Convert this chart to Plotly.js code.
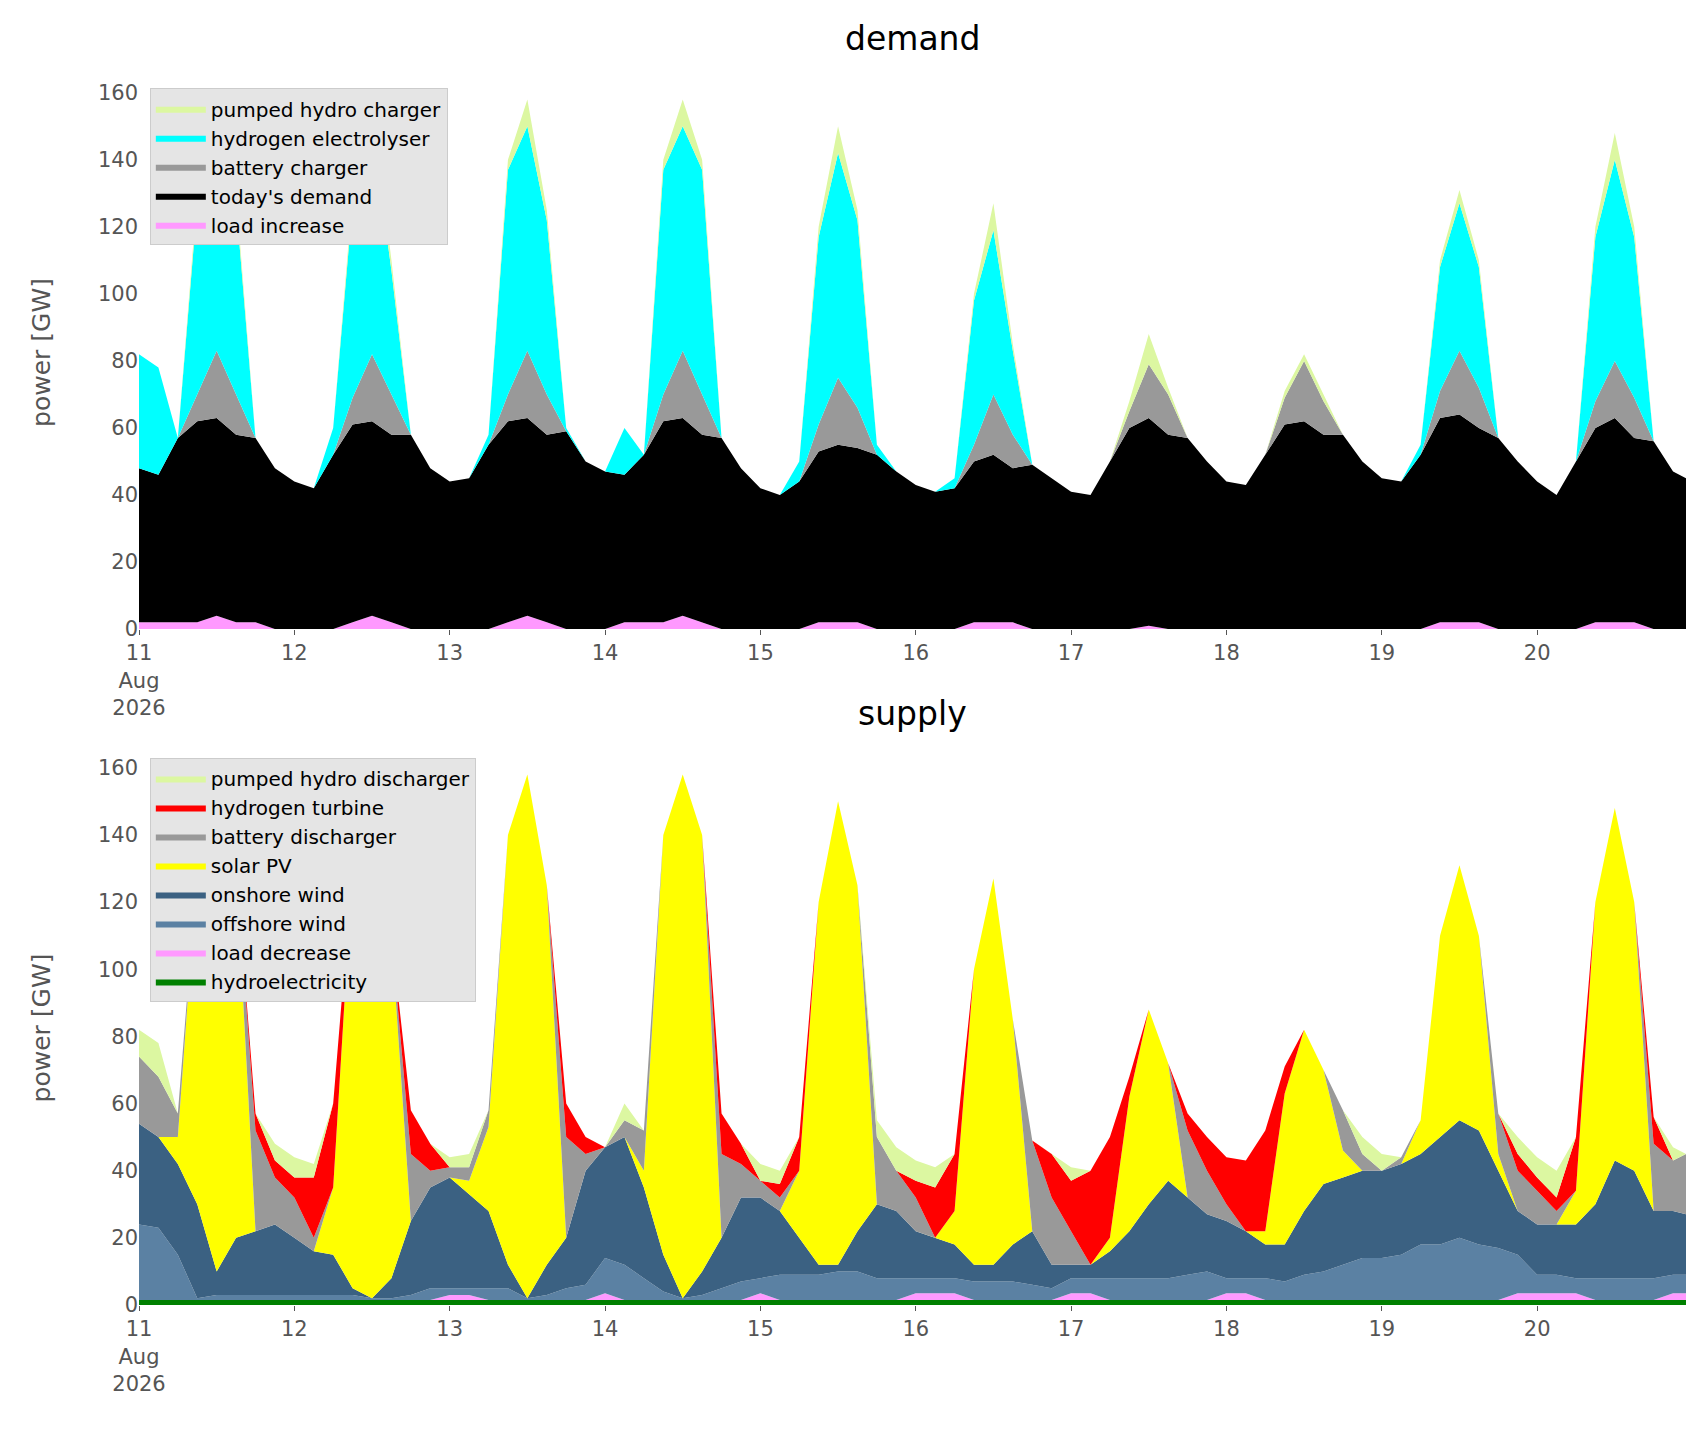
<!DOCTYPE html>
<html><head><meta charset="utf-8">
<script src="https://cdn.plot.ly/plotly-3.0.1.min.js"></script>
<style>body{margin:0;background:#fff}</style>
</head><body><div id="chart" style="width:1706px;height:1431px"></div>
<script>
// 3-hourly timestamps, Aug 11 00:00 .. Aug 20 21:00, plus Aug 20 23:00
const times = [];
for (let d = 11; d <= 20; d++) for (let h = 0; h < 24; h += 3) times.push(`2026-08-${d} ${String(h).padStart(2,'0')}:00`);
times.push('2026-08-20 23:00');

const tickVals = ['2026-08-11','2026-08-12','2026-08-13','2026-08-14','2026-08-15','2026-08-16','2026-08-17','2026-08-18','2026-08-19','2026-08-20','2026-08-21'];
const tickText = ['11<br>Aug<br>2026','12','13','14','15','16','17','18','19','20',''];

// demand (GW)
const loadIncrease = [2,2,2,2,4,2,2,0, 0,0,0,2,4,2,0,0, 0,0,0,2,4,2,0,0, 0,2,2,2,4,2,0,0, 0,0,0,2,2,2,0,0, 0,0,0,2,2,2,0,0, 0,0,0,0,1,0,0,0, 0,0,0,0,0,0,0,0, 0,0,0,2,2,2,0,0, 0,0,0,2,2,2,0,0, 0];
const todaysDemand = [46,44,55,60,59,56,55,48, 44,42,52,59,58,56,58,48, 44,45,55,60,59,56,59,50, 47,44,50,60,59,56,57,48, 42,40,44,51,53,52,52,47, 43,41,42,48,50,46,49,45, 41,40,50,60,62,58,57,50, 44,43,52,61,62,58,58,50, 45,44,52,61,62,58,57,50, 44,40,50,58,61,55,56,47, 45];
const batteryCharger = [0,0,0,8,20,12,0,0, 0,0,0,8,20,12,0,0, 0,0,0,8,20,12,0,0, 0,0,0,8,20,12,0,0, 0,0,0,8,20,12,0,0, 0,0,0,5,18,10,0,0, 0,0,0,5,16,12,0,0, 0,0,0,8,18,10,0,0, 0,0,0,8,19,12,0,0, 0,0,0,8,17,12,0,0, 0];
const electrolyser = [34,32,0,57,67,57,0,0, 0,0,8,58,68,37,0,0, 0,0,3,67,67,52,1,0, 0,14,0,67,67,67,0,0, 0,0,6,56,67,56,3,0, 0,0,3,43,49,25,0,0, 0,0,0,0,0,0,0,0, 0,0,0,0,0,0,0,0, 0,0,3,37,44,36,0,0, 0,0,0,49,60,48,0,0, 0];
const pumpedCharger = [0,0,0,3,8,3,0,0, 0,0,0,3,8,3,0,0, 0,0,0,3,8,3,0,0, 0,0,0,3,8,3,0,0, 0,0,0,3,8,3,0,0, 0,0,0,2,8,2,0,0, 0,0,0,3,9,2,0,0, 0,0,0,2,2,2,0,0, 0,0,0,2,4,2,0,0, 0,0,0,3,8,3,0,0, 0];

// supply (GW)
const hydro = [1.5,1.5,1.5,1.5,1.5,1.5,1.5,1.5, 1.5,1.5,1.5,1.5,1.5,1.5,1.5,1.5, 1.5,1.5,1.5,1.5,1.5,1.5,1.5,1.5, 1.5,1.5,1.5,1.5,1.5,1.5,1.5,1.5, 1.5,1.5,1.5,1.5,1.5,1.5,1.5,1.5, 1.5,1.5,1.5,1.5,1.5,1.5,1.5,1.5, 1.5,1.5,1.5,1.5,1.5,1.5,1.5,1.5, 1.5,1.5,1.5,1.5,1.5,1.5,1.5,1.5, 1.5,1.5,1.5,1.5,1.5,1.5,1.5,1.5, 1.5,1.5,1.5,1.5,1.5,1.5,1.5,1.5, 1.5];
const loadDecrease = [0,0,0,0,0,0,0,0, 0,0,0,0,0,0,0,0, 1.5,1.5,0,0,0,0,0,0, 2,0,0,0,0,0,0,0, 2,0,0,0,0,0,0,0, 2,2,2,0,0,0,0,0, 2,2,0,0,0,0,0,0, 2,2,0,0,0,0,0,0, 0,0,0,0,0,0,0,2, 2,2,2,0,0,0,0,2, 2];
const offshore = [22.5,21.5,13.5,0.5,1.5,1.5,1.5,1.5, 1.5,1.5,1.5,1.5,0.5,0.5,1.5,3.5, 2,2,3.5,3.5,0.5,1.5,3.5,4.5, 10.5,10.5,6.5,2.5,0.5,1.5,3.5,5.5, 4.5,7.5,7.5,7.5,8.5,8.5,6.5,6.5, 4.5,4.5,4.5,5.5,5.5,5.5,4.5,3.5, 4.5,4.5,6.5,6.5,6.5,6.5,7.5,8.5, 4.5,4.5,6.5,5.5,7.5,8.5,10.5,12.5, 12.5,13.5,16.5,16.5,18.5,16.5,15.5,11.5, 5.5,5.5,4.5,6.5,6.5,6.5,6.5,5.5, 5.5];
const onshore = [30,27,27,28,7,17,19,21, 17,13,12,2,0,6,22,30, 33,28,23,7,0,9,15,34, 33,38,27,11,0,7,15,25, 24,19,11,3,2,12,22,20, 14,12,10,5,5,11,16,7, 4,4,8,14,22,29,23,17, 17,14,10,11,19,26,26,26, 26,27,27,32,35,34,23,13, 15,15,16,22,35,32,20,19, 18];
const solar = [0,0,8,100,148,110,0,0, 0,0,20,125,156,102,0,0, 0,4,25,128,156,113,0,0, 0,0,5,125,156,130,0,0, 0,0,20,108,138,103,0,0, 0,0,10,88,115,67,0,0, 0,0,4,40,58,35,0,0, 0,0,4,45,54,34,8,0, 0,0,10,60,76,58,5,0, 0,0,10,90,105,80,0,0, 0];
const batteryDis = [20,18,7,0,0,0,30,14, 12,4,0,0,0,0,20,5, 3,4,5,0,0,0,30,5, 0,5,12,0,0,0,25,10, 5,4,0,0,0,0,20,12, 10,0,0,0,0,0,27,20, 10,0,0,0,0,0,20,13, 5,0,0,0,0,0,12,5, 0,2,0,0,0,0,12,12, 10,4,0,0,0,0,20,15, 18];
const h2Turbine = [0,0,0,0,0,0,5,5, 6,18,25,0,0,0,13,8, 0,0,0,0,0,0,10,5, 0,0,0,0,0,0,12,6, 0,4,10,0,0,0,0,0, 5,15,17,0,0,0,0,13, 15,28,30,6,0,0,5,10, 14,21,30,8,0,0,0,0, 0,0,0,0,0,0,0,5, 4,4,16,0,0,0,8,0, 0];
const pumpedDis = [8,10,0,0,0,0,0,5, 6,4,0,0,0,0,0,0, 3,4,0,0,0,0,0,0, 0,5,0,0,0,0,0,0, 5,4,0,0,0,0,5,7, 6,6,0,0,0,0,0,0, 4,0,0,0,0,0,0,0, 0,0,0,0,0,0,0,5, 5,0,0,0,0,0,0,5, 6,8,0,0,0,0,0,4, 0];

function area(name, y, color, group, xa, ya, legend) {
  return {type:'scatter', mode:'lines', x:times, y:y, name:name, stackgroup:group,
    line:{width:0}, fillcolor:color, marker:{color:color}, xaxis:xa, yaxis:ya, legend:legend};
}
const traces = [
  area('load increase', loadIncrease, '#ff99ff', 'd', 'x', 'y', 'legend'),
  area("today's demand", todaysDemand, '#000000', 'd', 'x', 'y', 'legend'),
  area('battery charger', batteryCharger, '#999999', 'd', 'x', 'y', 'legend'),
  area('hydrogen electrolyser', electrolyser, '#00ffff', 'd', 'x', 'y', 'legend'),
  area('pumped hydro charger', pumpedCharger, '#dcf7a1', 'd', 'x', 'y', 'legend'),
  area('hydroelectricity', hydro, '#008000', 's', 'x2', 'y2', 'legend2'),
  area('load decrease', loadDecrease, '#ff99ff', 's', 'x2', 'y2', 'legend2'),
  area('offshore wind', offshore, '#5b81a3', 's', 'x2', 'y2', 'legend2'),
  area('onshore wind', onshore, '#3b6182', 's', 'x2', 'y2', 'legend2'),
  area('solar PV', solar, '#ffff00', 's', 'x2', 'y2', 'legend2'),
  area('battery discharger', batteryDis, '#999999', 's', 'x2', 'y2', 'legend2'),
  area('hydrogen turbine', h2Turbine, '#ff0000', 's', 'x2', 'y2', 'legend2'),
  area('pumped hydro discharger', pumpedDis, '#dcf7a1', 's', 'x2', 'y2', 'legend2')
];
const xax = (anchor) => ({type:'date', range:['2026-08-11 00:00','2026-08-20 23:00'], tickvals:tickVals, ticktext:tickText,
  ticks:'outside', ticklen:5, tickcolor:'#555', tickfont:{size:21, color:'#555'}, showgrid:false, zeroline:false, showline:false, anchor:anchor});
const yax = (anchor, dom) => ({range:[0,165], domain:dom, tickvals:[0,20,40,60,80,100,120,140,160], ticks:'', tickfont:{size:21,color:'#555'},
  showgrid:false, zeroline:false, showline:false, anchor:anchor, title:{text:'power [GW]', font:{size:25,color:'#555'}, standoff:40}});
const leg = (y) => ({x:0.007, y:y, xanchor:'left', yanchor:'top', bgcolor:'#e5e5e5', bordercolor:'#cccccc', borderwidth:1,
  font:{size:20, color:'#000'}, traceorder:'reversed', itemsizing:'constant', itemwidth:50});
const layout = {
  width:1706, height:1431, margin:{l:139, r:20, t:76, b:126}, paper_bgcolor:'#fff', plot_bgcolor:'#fff',
  font:{family:'DejaVu Sans'}, hovermode:false,
  xaxis: xax('y'), yaxis: yax('x', [0.55,1]),
  xaxis2: xax('y2'), yaxis2: yax('x2', [0,0.4508]),
  legend: leg(0.99), legend2: leg(0.445),
  annotations:[
    {text:'demand', x:0.5, y:1, xref:'paper', yref:'paper', showarrow:false, font:{size:33,color:'#000'}},
    {text:'supply', x:0.5, y:0, xref:'paper', yref:'paper', showarrow:false, font:{size:33,color:'#000'}}
  ]
};
const ph = 1431-76-126;
layout.annotations[0].y = 1 + (76-38)/ph; layout.annotations[0].yanchor='middle';
layout.annotations[1].y = 1 - (713-76)/ph; layout.annotations[1].yanchor='middle';
Plotly.newPlot('chart', traces, layout, {displayModeBar:false});
</script></body></html>
